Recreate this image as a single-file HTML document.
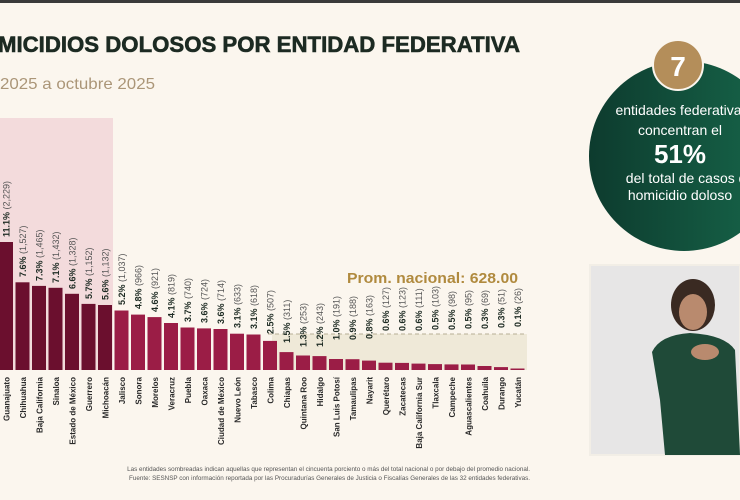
<!DOCTYPE html>
<html><head><meta charset="utf-8"><style>
html,body{margin:0;padding:0;}
body{width:740px;height:500px;overflow:hidden;background:#fbf6ee;font-family:"Liberation Sans",sans-serif;position:relative;}
</style></head><body>
<svg width="740" height="500" xmlns="http://www.w3.org/2000/svg" style="position:absolute;left:0;top:0">
<defs>
<linearGradient id="g" x1="0" y1="0" x2="1" y2="0"><stop offset="0" stop-color="#0d3b2e"/><stop offset="1" stop-color="#17664a"/></linearGradient>
</defs>
<rect x="0" y="0" width="740" height="3" fill="#3a3a3a"/>
<text x="-2" y="52" font-size="22" font-weight="bold" fill="#1c2a22" textLength="522" lengthAdjust="spacingAndGlyphs" stroke="#1c2a22" stroke-width="0.6">MICIDIOS DOLOSOS POR ENTIDAD FEDERATIVA</text>
<text x="0" y="89" font-size="16" fill="#ab9678" textLength="155" lengthAdjust="spacingAndGlyphs">2025 a octubre 2025</text>
<rect x="0" y="118" width="113" height="252" fill="#f3dbdc"/>
<rect x="272" y="334" width="255" height="36" fill="#efe9d8"/>
<line x1="268" y1="334" x2="527" y2="334" stroke="#b7ae95" stroke-width="1" stroke-dasharray="4,3"/>
<text x="347" y="283" font-size="15" font-weight="bold" fill="#b08a3e" textLength="171" lengthAdjust="spacingAndGlyphs">Prom. nacional: 628.00</text>
<g fill="#6b0f2e">
<rect x="-1" y="242" width="14" height="128"/><rect x="15.5" y="282.3" width="14" height="87.7"/><rect x="32" y="285.9" width="14" height="84.1"/><rect x="48.5" y="287.8" width="14" height="82.2"/><rect x="65" y="293.8" width="14" height="76.2"/><rect x="81.5" y="303.9" width="14" height="66.1"/><rect x="98" y="305" width="14" height="65"/>
</g>
<g fill="#9b1d46">
<rect x="114.5" y="310.5" width="14" height="59.5"/><rect x="131" y="314.6" width="14" height="55.4"/><rect x="147.5" y="317.1" width="14" height="52.9"/><rect x="164" y="323" width="14" height="47"/><rect x="180.5" y="327.5" width="14" height="42.5"/><rect x="197" y="328.4" width="14" height="41.6"/><rect x="213.5" y="329" width="14" height="41"/><rect x="230" y="333.7" width="14" height="36.3"/><rect x="246.5" y="334.5" width="14" height="35.5"/><rect x="263" y="340.9" width="14" height="29.1"/><rect x="279.5" y="352.1" width="14" height="17.9"/><rect x="296" y="355.5" width="14" height="14.5"/><rect x="312.5" y="356.1" width="14" height="13.9"/><rect x="329" y="359" width="14" height="11"/><rect x="345.5" y="359.2" width="14" height="10.8"/><rect x="362" y="360.6" width="14" height="9.4"/><rect x="378.5" y="362.7" width="14" height="7.3"/><rect x="395" y="362.9" width="14" height="7.1"/><rect x="411.5" y="363.6" width="14" height="6.4"/><rect x="428" y="364.1" width="14" height="5.9"/><rect x="444.5" y="364.4" width="14" height="5.6"/><rect x="461" y="364.5" width="14" height="5.5"/><rect x="477.5" y="366" width="14" height="4"/><rect x="494" y="367.1" width="14" height="2.9"/><rect x="510.5" y="368.5" width="14" height="1.5"/>
</g>
<g font-size="9" fill="#1c2a22">
<text transform="translate(9.5,237) rotate(-90)"><tspan font-weight="bold">11.1%</tspan><tspan fill="#555"> (2,229)</tspan></text>
<text transform="translate(26,277) rotate(-90)"><tspan font-weight="bold">7.6%</tspan><tspan fill="#555"> (1,527)</tspan></text>
<text transform="translate(42.5,281) rotate(-90)"><tspan font-weight="bold">7.3%</tspan><tspan fill="#555"> (1,465)</tspan></text>
<text transform="translate(59,283) rotate(-90)"><tspan font-weight="bold">7.1%</tspan><tspan fill="#555"> (1,432)</tspan></text>
<text transform="translate(75.5,289) rotate(-90)"><tspan font-weight="bold">6.6%</tspan><tspan fill="#555"> (1,328)</tspan></text>
<text transform="translate(92,299) rotate(-90)"><tspan font-weight="bold">5.7%</tspan><tspan fill="#555"> (1,152)</tspan></text>
<text transform="translate(108.5,300) rotate(-90)"><tspan font-weight="bold">5.6%</tspan><tspan fill="#555"> (1,132)</tspan></text>
<text transform="translate(125,305) rotate(-90)"><tspan font-weight="bold">5.2%</tspan><tspan fill="#555"> (1,037)</tspan></text>
<text transform="translate(141.5,309) rotate(-90)"><tspan font-weight="bold">4.8%</tspan><tspan fill="#555"> (966)</tspan></text>
<text transform="translate(158,312) rotate(-90)"><tspan font-weight="bold">4.6%</tspan><tspan fill="#555"> (921)</tspan></text>
<text transform="translate(174.5,318) rotate(-90)"><tspan font-weight="bold">4.1%</tspan><tspan fill="#555"> (819)</tspan></text>
<text transform="translate(191,322) rotate(-90)"><tspan font-weight="bold">3.7%</tspan><tspan fill="#555"> (740)</tspan></text>
<text transform="translate(207.5,323) rotate(-90)"><tspan font-weight="bold">3.6%</tspan><tspan fill="#555"> (724)</tspan></text>
<text transform="translate(224,324) rotate(-90)"><tspan font-weight="bold">3.6%</tspan><tspan fill="#555"> (714)</tspan></text>
<text transform="translate(240.5,328) rotate(-90)"><tspan font-weight="bold">3.1%</tspan><tspan fill="#555"> (633)</tspan></text>
<text transform="translate(257,329) rotate(-90)"><tspan font-weight="bold">3.1%</tspan><tspan fill="#555"> (618)</tspan></text>
<text transform="translate(273.5,334) rotate(-90)"><tspan font-weight="bold">2.5%</tspan><tspan fill="#555"> (507)</tspan></text>
<text transform="translate(290,343) rotate(-90)"><tspan font-weight="bold">1.5%</tspan><tspan fill="#555"> (311)</tspan></text>
<text transform="translate(306.5,347) rotate(-90)"><tspan font-weight="bold">1.3%</tspan><tspan fill="#555"> (253)</tspan></text>
<text transform="translate(323,347) rotate(-90)"><tspan font-weight="bold">1.2%</tspan><tspan fill="#555"> (243)</tspan></text>
<text transform="translate(339.5,340) rotate(-90)"><tspan font-weight="bold">1.0%</tspan><tspan fill="#555"> (191)</tspan></text>
<text transform="translate(356,340) rotate(-90)"><tspan font-weight="bold">0.9%</tspan><tspan fill="#555"> (188)</tspan></text>
<text transform="translate(372.5,339) rotate(-90)"><tspan font-weight="bold">0.8%</tspan><tspan fill="#555"> (163)</tspan></text>
<text transform="translate(389,331) rotate(-90)"><tspan font-weight="bold">0.6%</tspan><tspan fill="#555"> (127)</tspan></text>
<text transform="translate(405.5,331) rotate(-90)"><tspan font-weight="bold">0.6%</tspan><tspan fill="#555"> (123)</tspan></text>
<text transform="translate(422,331) rotate(-90)"><tspan font-weight="bold">0.6%</tspan><tspan fill="#555"> (111)</tspan></text>
<text transform="translate(438.5,330) rotate(-90)"><tspan font-weight="bold">0.5%</tspan><tspan fill="#555"> (103)</tspan></text>
<text transform="translate(455,330) rotate(-90)"><tspan font-weight="bold">0.5%</tspan><tspan fill="#555"> (98)</tspan></text>
<text transform="translate(471.5,329) rotate(-90)"><tspan font-weight="bold">0.5%</tspan><tspan fill="#555"> (95)</tspan></text>
<text transform="translate(488,329) rotate(-90)"><tspan font-weight="bold">0.3%</tspan><tspan fill="#555"> (69)</tspan></text>
<text transform="translate(504.5,328) rotate(-90)"><tspan font-weight="bold">0.3%</tspan><tspan fill="#555"> (51)</tspan></text>
<text transform="translate(521,327) rotate(-90)"><tspan font-weight="bold">0.1%</tspan><tspan fill="#555"> (26)</tspan></text>
</g>
<g font-size="8" font-weight="bold" fill="#2a2a2a" text-anchor="end">
<text transform="translate(9.5,377) rotate(-90)">Guanajuato</text>
<text transform="translate(26,377) rotate(-90)">Chihuahua</text>
<text transform="translate(42.5,377) rotate(-90)">Baja California</text>
<text transform="translate(59,377) rotate(-90)">Sinaloa</text>
<text transform="translate(75.5,377) rotate(-90)">Estado de México</text>
<text transform="translate(92,377) rotate(-90)">Guerrero</text>
<text transform="translate(108.5,377) rotate(-90)">Michoacán</text>
<text transform="translate(125,377) rotate(-90)">Jalisco</text>
<text transform="translate(141.5,377) rotate(-90)">Sonora</text>
<text transform="translate(158,377) rotate(-90)">Morelos</text>
<text transform="translate(174.5,377) rotate(-90)">Veracruz</text>
<text transform="translate(191,377) rotate(-90)">Puebla</text>
<text transform="translate(207.5,377) rotate(-90)">Oaxaca</text>
<text transform="translate(224,377) rotate(-90)">Ciudad de México</text>
<text transform="translate(240.5,377) rotate(-90)">Nuevo León</text>
<text transform="translate(257,377) rotate(-90)">Tabasco</text>
<text transform="translate(273.5,377) rotate(-90)">Colima</text>
<text transform="translate(290,377) rotate(-90)">Chiapas</text>
<text transform="translate(306.5,377) rotate(-90)">Quintana Roo</text>
<text transform="translate(323,377) rotate(-90)">Hidalgo</text>
<text transform="translate(339.5,377) rotate(-90)">San Luis Potosí</text>
<text transform="translate(356,377) rotate(-90)">Tamaulipas</text>
<text transform="translate(372.5,377) rotate(-90)">Nayarit</text>
<text transform="translate(389,377) rotate(-90)">Querétaro</text>
<text transform="translate(405.5,377) rotate(-90)">Zacatecas</text>
<text transform="translate(422,377) rotate(-90)">Baja California Sur</text>
<text transform="translate(438.5,377) rotate(-90)">Tlaxcala</text>
<text transform="translate(455,377) rotate(-90)">Campeche</text>
<text transform="translate(471.5,377) rotate(-90)">Aguascalientes</text>
<text transform="translate(488,377) rotate(-90)">Coahuila</text>
<text transform="translate(504.5,377) rotate(-90)">Durango</text>
<text transform="translate(521,377) rotate(-90)">Yucatán</text>
</g>
<g font-size="6.3" fill="#555" text-anchor="end">
<text x="530" y="471">Las entidades sombreadas indican aquellas que representan el cincuenta porciento o más del total nacional o por debajo del promedio nacional.</text>
<text x="530" y="480">Fuente: SESNSP con información reportada por las Procuradurías Generales de Justicia o Fiscalías Generales de las 32 entidades federativas.</text>
</g>
<circle cx="684" cy="156" r="95" fill="url(#g)"/>
<circle cx="678" cy="65" r="25" fill="#b48e5a" stroke="#fbf6ee" stroke-width="2"/>
<text x="678" y="76" font-size="28" font-weight="bold" fill="#fff" text-anchor="middle">7</text>
<g fill="#fff" text-anchor="middle" font-size="14">
<text x="682" y="115">entidades federativas</text>
<text x="680" y="135">concentran el</text>
<text x="680" y="163" font-size="26" font-weight="bold">51%</text>
<text x="690" y="183">del total de casos de</text>
<text x="680" y="200">homicidio doloso</text>
</g>
<rect x="590" y="265" width="150" height="190" fill="#e7e6e6"/>
<rect x="590" y="265" width="150" height="190" fill="none" stroke="#f2eee6" stroke-width="2"/>
<ellipse cx="693" cy="305" rx="22" ry="26" fill="#3a2a22"/>
<ellipse cx="693" cy="312" rx="14" ry="18" fill="#b98a6e"/>
<path d="M652 352 Q660 335 690 333 Q725 335 735 350 L740 455 L665 455 L660 400 Z" fill="#1f4a38"/>
<ellipse cx="705" cy="352" rx="14" ry="8" fill="#b98a6e"/>
</svg>
</body></html>
